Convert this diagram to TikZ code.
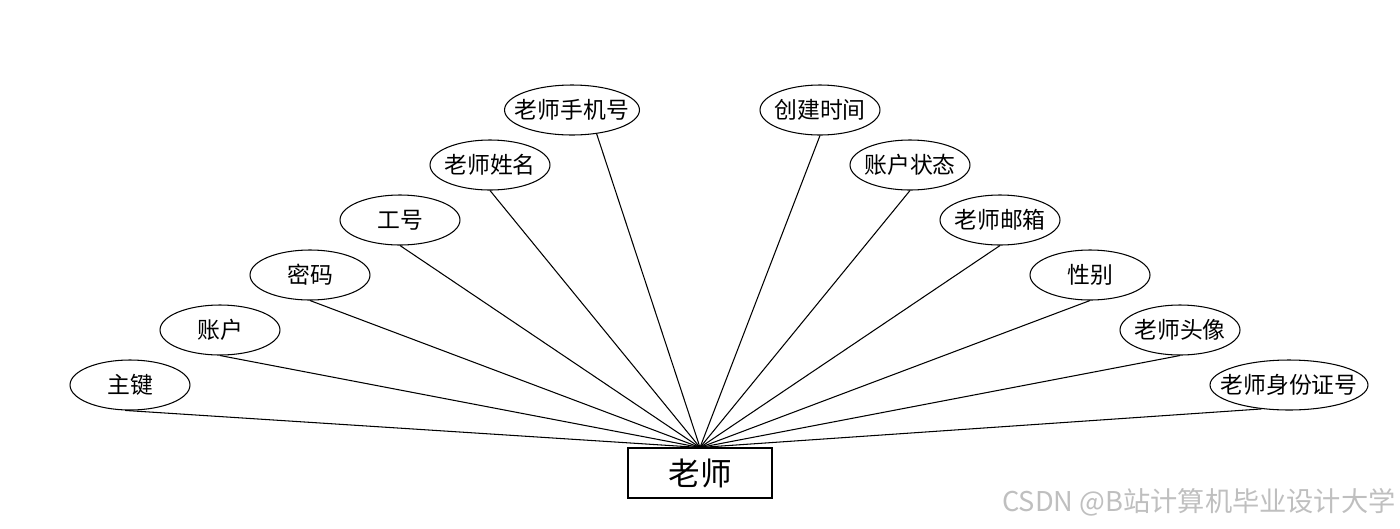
\documentclass[tikz,border=0pt]{standalone}
\usepackage{fontspec}
\setmainfont{Noto Sans CJK SC}
\usetikzlibrary{shapes.geometric}

\begin{document}
\begin{tikzpicture}[
x=0.02cm,y=-0.02cm,
attr/.style={draw,ellipse,inner ysep=0pt,inner xsep=-0.3cm,
font=\fontsize{13}{15}\selectfont,
minimum height=1cm,minimum width=2.4cm,line width=0.6pt},
entity/.style={draw,rectangle,inner sep=0pt,font=\fontsize{18}{20}\selectfont,
minimum height=1cm,minimum width=2.88cm,line width=0.6pt},
link/.style={line width=0.6pt}
]
\useasboundingbox (0,0) rectangle (1400,528);

\node[entity] (teacher) at (700,473) {老师};

% left fan
\node[attr] (pk)    at (130,385) {主键};
\node[attr] (acct)  at (220,330) {账户};
\node[attr] (pwd)   at (310,275) {密码};
\node[attr] (jobno) at (400,220) {工号};
\node[attr] (name)  at (490,165) {老师姓名};
\node[attr,minimum width=2.7cm] (phone) at (572,110) {老师手机号};

% right fan
\node[attr] (ctime)  at (820,110) {创建时间};
\node[attr] (status) at (910,165) {账户状态};
\node[attr] (email)  at (1000,220) {老师邮箱};
\node[attr] (sex)    at (1090,275) {性别};
\node[attr] (avatar) at (1180,330) {老师头像};
\node[attr,minimum width=3.16cm] (idno) at (1289,385) {老师身份证号};

\draw[link] (pk.259) -- (teacher.north);
\draw[link] (acct.south) -- (teacher.north);
\draw[link] (pwd.south) -- (teacher.north);
\draw[link] (jobno.south) -- (teacher.north);
\draw[link] (name.south) -- (teacher.north);
\draw[link] (phone.316) -- (teacher.north);
\draw[link] (ctime.south) -- (teacher.north);
\draw[link] (status.south) -- (teacher.north);
\draw[link] (email.south) -- (teacher.north);
\draw[link] (sex.south) -- (teacher.north);
\draw[link] (avatar.south) -- (teacher.north);
\draw[link] (idno.221) -- (teacher.north);

\node[anchor=east,inner sep=0pt,text=black!25,font=\fontsize{15.5}{17}\selectfont]
  (mark) at (1396,502) {CSDN @B站计算机毕业设计大学};
\end{tikzpicture}
\end{document}
